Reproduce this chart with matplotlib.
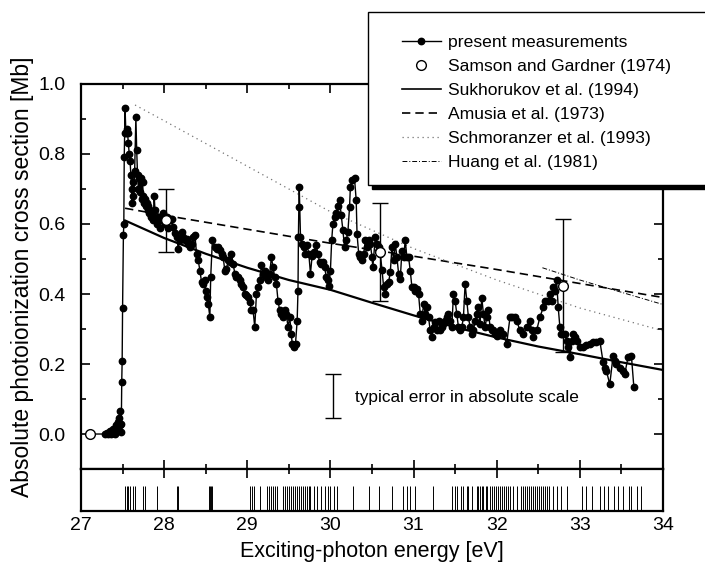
import matplotlib
matplotlib.use('Agg')
import matplotlib.pyplot as plt
from matplotlib.patches import Rectangle
from matplotlib.lines import Line2D

plt.rcParams['font.family'] = ['Liberation Sans', 'DejaVu Sans']

# present measurements (photon energy in eV, cross section in Mb)
energy = [27.11, 27.29, 27.31, 27.33, 27.35, 27.36, 27.38, 27.39, 27.40, 27.41,
          27.42, 27.43, 27.44, 27.45, 27.46, 27.47, 27.475, 27.48, 27.485, 27.49,
          27.495, 27.50, 27.51, 27.515, 27.52, 27.525, 27.53, 27.54, 27.55, 27.56,
          27.57, 27.58, 27.59, 27.60, 27.61, 27.615, 27.62, 27.63, 27.645, 27.66,
          27.67, 27.68, 27.69, 27.70, 27.71, 27.72, 27.73, 27.74, 27.75, 27.76,
          27.77, 27.78, 27.79, 27.80, 27.81, 27.82, 27.83, 27.84, 27.85, 27.86,
          27.87, 27.88, 27.89, 27.91, 27.93, 27.95, 27.97, 27.99, 28.01, 28.03,
          28.05, 28.07, 28.09, 28.11, 28.13, 28.15, 28.17, 28.19, 28.21, 28.23,
          28.25, 28.27, 28.29, 28.31, 28.33, 28.35, 28.37, 28.39, 28.41, 28.43,
          28.45, 28.47, 28.49, 28.50, 28.52, 28.53, 28.55, 28.56, 28.58, 28.61,
          28.63, 28.65, 28.67, 28.69, 28.71, 28.73, 28.75, 28.77, 28.79, 28.81,
          28.83, 28.85, 28.87, 28.89, 28.91, 28.93, 28.95, 28.97, 28.99, 29.01,
          29.03, 29.05, 29.07, 29.09, 29.11, 29.13, 29.15, 29.17, 29.19, 29.21,
          29.23, 29.25, 29.27, 29.29, 29.31, 29.33, 29.35, 29.37, 29.39, 29.41,
          29.43, 29.45, 29.47, 29.49, 29.51, 29.53, 29.54, 29.56, 29.58, 29.60,
          29.61, 29.615, 29.62, 29.625, 29.64, 29.66, 29.68, 29.70, 29.72, 29.74,
          29.76, 29.78, 29.80, 29.83, 29.85, 29.87, 29.89, 29.91, 29.93, 29.95,
          29.97, 29.98, 30.00, 30.015, 30.03, 30.05, 30.07, 30.09, 30.11, 30.13,
          30.15, 30.17, 30.19, 30.21, 30.23, 30.24, 30.26, 30.29, 30.31, 30.32,
          30.34, 30.36, 30.38, 30.40, 30.42, 30.44, 30.46, 30.48, 30.50, 30.51,
          30.54, 30.56, 30.58, 30.60, 30.62, 30.64, 30.66, 30.68, 30.70, 30.72,
          30.74, 30.76, 30.78, 30.80, 30.82, 30.84, 30.86, 30.88, 30.90, 30.92,
          30.94, 30.96, 30.98, 31.00, 31.02, 31.04, 31.06, 31.08, 31.10, 31.12,
          31.14, 31.16, 31.18, 31.20, 31.22, 31.24, 31.26, 31.28, 31.30, 31.32,
          31.34, 31.36, 31.38, 31.40, 31.42, 31.44, 31.46, 31.48, 31.50, 31.52,
          31.54, 31.56, 31.58, 31.60, 31.62, 31.64, 31.66, 31.68, 31.70, 31.72,
          31.74, 31.76, 31.78, 31.80, 31.82, 31.84, 31.86, 31.88, 31.90, 31.92,
          31.94, 31.96, 31.98, 32.00, 32.04, 32.08, 32.12, 32.16, 32.18, 32.22,
          32.24, 32.28, 32.32, 32.36, 32.40, 32.42, 32.44, 32.48, 32.52, 32.56,
          32.58, 32.62, 32.64, 32.66, 32.68, 32.70, 32.72, 32.74, 32.76, 32.77,
          32.79, 32.82, 32.84, 32.86, 32.88, 32.90, 32.92, 32.94, 32.96, 33.00,
          33.04, 33.08, 33.12, 33.16, 33.20, 33.24, 33.28, 33.30, 33.32, 33.36,
          33.40, 33.42, 33.44, 33.48, 33.52, 33.54, 33.58, 33.62, 33.65]
sigma = [0.000, 0.000, 0.004, 0.000, 0.008, 0.000, 0.015, 0.004, 0.012, 0.000,
         0.025, 0.008, 0.035, 0.015, 0.045, 0.025, 0.065, 0.005, 0.030, 0.150,
         0.210, 0.360, 0.570, 0.600, 0.790, 0.860, 0.930, 0.860, 0.870, 0.860,
         0.830, 0.800, 0.780, 0.740, 0.700, 0.660, 0.720, 0.680, 0.750, 0.905,
         0.810, 0.740, 0.700, 0.730, 0.690, 0.730, 0.670, 0.720, 0.680, 0.660,
         0.670, 0.650, 0.660, 0.640, 0.650, 0.630, 0.640, 0.620, 0.630, 0.610,
         0.620, 0.680, 0.640, 0.600, 0.620, 0.590, 0.610, 0.630, 0.600, 0.620,
         0.590, 0.610, 0.615, 0.592, 0.575, 0.563, 0.530, 0.553, 0.577, 0.563,
         0.553, 0.558, 0.544, 0.534, 0.544, 0.563, 0.568, 0.515, 0.496, 0.467,
         0.434, 0.429, 0.439, 0.410, 0.391, 0.372, 0.334, 0.448, 0.553, 0.534,
         0.529, 0.534, 0.525, 0.515, 0.505, 0.467, 0.472, 0.496, 0.491, 0.515,
         0.486, 0.458, 0.448, 0.448, 0.439, 0.429, 0.420, 0.400, 0.396, 0.391,
         0.377, 0.353, 0.353, 0.305, 0.400, 0.420, 0.439, 0.482, 0.458, 0.467,
         0.448, 0.439, 0.458, 0.505, 0.477, 0.448, 0.429, 0.380, 0.353, 0.343,
         0.334, 0.353, 0.343, 0.305, 0.334, 0.286, 0.258, 0.248, 0.258, 0.324,
         0.410, 0.563, 0.649, 0.706, 0.563, 0.544, 0.534, 0.515, 0.539, 0.515,
         0.458, 0.510, 0.520, 0.539, 0.515, 0.491, 0.486, 0.491, 0.477, 0.448,
         0.439, 0.424, 0.467, 0.553, 0.600, 0.620, 0.630, 0.650, 0.668, 0.625,
         0.582, 0.534, 0.553, 0.577, 0.648, 0.706, 0.725, 0.730, 0.668, 0.572,
         0.515, 0.505, 0.496, 0.515, 0.553, 0.534, 0.553, 0.544, 0.505, 0.477,
         0.563, 0.544, 0.534, 0.515, 0.470, 0.420, 0.400, 0.429, 0.434, 0.462,
         0.534, 0.496, 0.544, 0.505, 0.458, 0.443, 0.524, 0.505, 0.553, 0.505,
         0.505, 0.467, 0.420, 0.420, 0.410, 0.415, 0.400, 0.344, 0.324, 0.372,
         0.344, 0.362, 0.334, 0.296, 0.277, 0.305, 0.320, 0.296, 0.324, 0.296,
         0.305, 0.315, 0.324, 0.334, 0.344, 0.324, 0.305, 0.400, 0.381, 0.344,
         0.305, 0.296, 0.305, 0.334, 0.429, 0.381, 0.334, 0.305, 0.286, 0.296,
         0.324, 0.344, 0.362, 0.315, 0.390, 0.344, 0.305, 0.334, 0.353, 0.305,
         0.296, 0.296, 0.286, 0.281, 0.296, 0.286, 0.258, 0.334, 0.334, 0.334,
         0.324, 0.296, 0.286, 0.305, 0.324, 0.296, 0.277, 0.296, 0.334, 0.362,
         0.381, 0.381, 0.400, 0.381, 0.420, 0.410, 0.440, 0.362, 0.305, 0.286,
         0.286, 0.286, 0.267, 0.248, 0.220, 0.267, 0.286, 0.277, 0.267, 0.248,
         0.248, 0.253, 0.258, 0.262, 0.262, 0.267, 0.205, 0.190, 0.180, 0.142,
         0.224, 0.210, 0.200, 0.190, 0.180, 0.171, 0.220, 0.224, 0.133]

# Samson and Gardner (1974)
samson_e = [27.11, 28.02, 30.60, 32.80]
samson_s = [0.0, 0.61, 0.52, 0.423]
samson_err_e = [28.02, 30.60, 32.80]
samson_err_s = [0.61, 0.52, 0.423]
samson_err = [0.09, 0.14, 0.19]

# theory curves
sukh_e = [27.53, 28.0, 28.5, 29.0, 29.5, 30.0, 30.5, 31.0, 31.5, 32.0, 32.5, 33.0, 33.5, 34.0]
sukh_s = [0.61, 0.56, 0.515, 0.475, 0.44, 0.412, 0.375, 0.339, 0.305, 0.276, 0.25, 0.228, 0.205, 0.183]
amusia_e = [27.53, 28.0, 29.0, 30.0, 31.0, 32.0, 33.0, 34.0]
amusia_s = [0.645, 0.625, 0.585, 0.545, 0.508, 0.47, 0.43, 0.39]
schm_e = [27.65, 28.0, 29.0, 30.0, 31.0, 32.0, 33.0, 34.0]
schm_s = [0.94, 0.895, 0.765, 0.635, 0.53, 0.44, 0.36, 0.295]
huang_e = [32.55, 33.0, 33.5, 34.0]
huang_s = [0.475, 0.44, 0.405, 0.37]

# typical error bar
typ_e = 30.03
typ_lo, typ_hi = 0.045, 0.171

# line positions shown in the lower strip
lines_e = [27.529, 27.550, 27.569, 27.589, 27.622, 27.650, 27.749, 27.770, 27.911, 28.151,
           28.170, 28.540, 28.552, 28.564, 28.576, 29.033, 29.053, 29.081, 29.153, 29.234,
           29.265, 29.282, 29.306, 29.333, 29.354, 29.426, 29.454, 29.478, 29.502, 29.526,
           29.550, 29.574, 29.598, 29.622, 29.646, 29.670, 29.694, 29.718, 29.742, 29.754,
           29.802, 29.835, 29.883, 29.935, 29.974, 29.995, 30.043, 30.076, 30.275, 30.468,
           30.588, 30.737, 30.877, 30.917, 30.957, 31.017, 31.237, 31.459, 31.495, 31.519,
           31.566, 31.598, 31.637, 31.658, 31.708, 31.760, 31.777, 31.799, 31.826, 31.839,
           31.871, 31.883, 31.919, 31.943, 31.967, 31.992, 32.016, 32.040, 32.064, 32.088,
           32.112, 32.136, 32.160, 32.202, 32.250, 32.292, 32.316, 32.340, 32.365, 32.389,
           32.413, 32.437, 32.461, 32.485, 32.509, 32.533, 32.557, 32.581, 32.605, 32.629,
           32.674, 32.722, 32.769, 32.840, 33.026, 33.074, 33.146, 33.240, 33.287, 33.334,
           33.405, 33.453, 33.523, 33.594, 33.615, 33.687, 33.735]

fig = plt.figure(figsize=(7.05, 5.69), dpi=100)
ax = fig.add_axes([0.1149, 0.1757, 0.8255, 0.6767])
ax2 = fig.add_axes([0.1149, 0.1019, 0.8255, 0.0738])

ax.plot(sukh_e, sukh_s, color='black', lw=1.6, zorder=2)
ax.plot(amusia_e, amusia_s, color='black', lw=1.2, dashes=(5, 3), zorder=2)
ax.plot(schm_e, schm_s, color='0.45', lw=0.9, linestyle=(0, (1, 3)), zorder=2)
ax.plot(huang_e, huang_s, color='black', lw=0.7, linestyle=(0, (5, 2, 1, 2)), zorder=2)

ax.plot(energy, sigma, color='black', lw=1.0, marker='o', ms=4.6,
        markevery=list(range(1, len(energy))), zorder=3)

ax.errorbar(samson_err_e, samson_err_s, yerr=samson_err, fmt='none', ecolor='black',
            elinewidth=1.0, capsize=6, capthick=1.0, zorder=4)
ax.plot(samson_e, samson_s, linestyle='none', marker='o', ms=7, mfc='white',
        mec='black', mew=1.0, zorder=5)

ax.errorbar([typ_e], [(typ_lo + typ_hi) / 2], yerr=[(typ_hi - typ_lo) / 2], fmt='none',
            ecolor='black', elinewidth=1.0, capsize=6, capthick=1.0)
ax.text(30.3, 0.105, 'typical error in absolute scale', fontsize=12.4, va='center', ha='left')

ax.set_xlim(27, 34)
ax.set_ylim(-0.1, 1.0)
ax.set_yticks([0.0, 0.2, 0.4, 0.6, 0.8, 1.0])
ax.set_yticks([-0.1, 0.1, 0.3, 0.5, 0.7, 0.9], minor=True)
ax.set_xticks(range(27, 35))
ax.set_xticks([27.5, 28.5, 29.5, 30.5, 31.5, 32.5, 33.5], minor=True)
ax.tick_params(axis='both', which='both', direction='in', top=True, right=True,
               labelbottom=False, width=1.2, labelsize=14)
ax.tick_params(axis='y', pad=11)
ax.tick_params(which='major', length=6.5)
ax.tick_params(which='minor', length=3.3)
ax.set_ylabel('Absolute photoionization cross section [Mb]', fontsize=16.5, labelpad=3)
for sp in ax.spines.values():
    sp.set_linewidth(1.6)

# lower strip with line positions
ax2.vlines(lines_e, 0, 0.6, color='black', lw=0.7)
ax2.set_xlim(27, 34)
ax2.set_ylim(0, 1)
ax2.set_yticks([])
ax2.set_xticks(range(27, 35))
ax2.set_xticks([27.5, 28.5, 29.5, 30.5, 31.5, 32.5, 33.5], minor=True)
ax2.tick_params(axis='x', which='both', direction='in', top=True, bottom=False,
                labelbottom=True, width=1.2, labelsize=14, pad=4)
ax2.tick_params(which='major', length=6.5)
ax2.tick_params(which='minor', length=3.3)
ax2.set_xlabel('Exciting-photon energy [eV]', fontsize=15.5, labelpad=5)
for sp in ax2.spines.values():
    sp.set_linewidth(1.6)

# legend box with shadow
W, H = 705.0, 569.0
x0, y0, x1, y1 = 368, 12, 720, 185
fig.add_artist(Rectangle((x0 / W + 4 / W, 1 - (y1 + 4) / H), (x1 - x0) / W, (y1 - y0) / H,
                         transform=fig.transFigure, facecolor='black', edgecolor='black', zorder=3))
fig.add_artist(Rectangle((x0 / W, 1 - y1 / H), (x1 - x0) / W, (y1 - y0) / H,
                         transform=fig.transFigure, facecolor='white', edgecolor='black',
                         lw=1.0, zorder=4))

handles = [
    Line2D([], [], color='black', lw=1.0, marker='o', ms=4.6),
    Line2D([], [], linestyle='none', marker='o', ms=7, mfc='white', mec='black', mew=1.0),
    Line2D([], [], color='black', lw=1.2),
    Line2D([], [], color='black', lw=1.2, dashes=(5, 3)),
    Line2D([], [], color='0.45', lw=0.9, linestyle=(0, (1, 3))),
    Line2D([], [], color='black', lw=0.7, linestyle=(0, (5, 2, 1, 2))),
]
labels = ['present measurements', 'Samson and Gardner (1974)', 'Sukhorukov et al. (1994)',
          'Amusia et al. (1973)', 'Schmoranzer et al. (1993)', 'Huang et al. (1981)']
leg = fig.legend(handles, labels, loc='upper left', bbox_to_anchor=(402 / W, 1 - 35 / H),
                 frameon=False, fontsize=12.6, handlelength=2.2, handletextpad=0.45,
                 labelspacing=0.5, borderpad=0, borderaxespad=0, numpoints=1)
leg.set_zorder(5)

fig.savefig('out.png', dpi=100)
